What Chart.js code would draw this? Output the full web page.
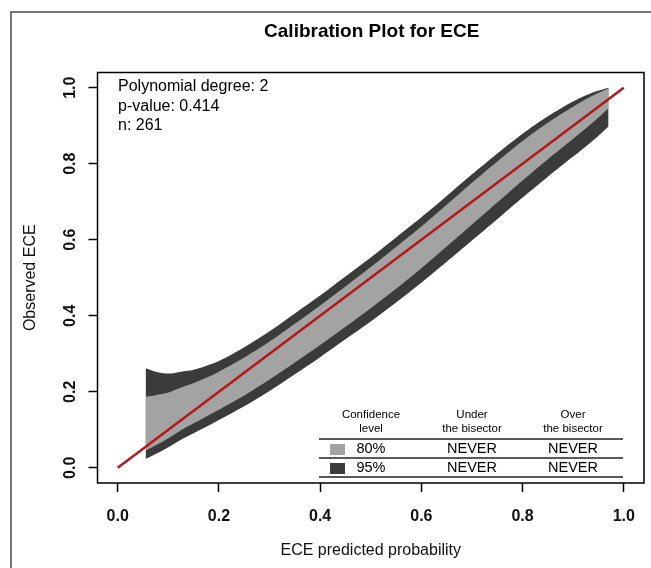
<!DOCTYPE html>
<html>
<head>
<meta charset="utf-8">
<script src="https://cdn.jsdelivr.net/npm/chart.js@4.4.0/dist/chart.umd.min.js"></script>
<style>
  html, body { margin: 0; padding: 0; background: #fff; }
  #wrap { width: 651px; height: 568px; }
</style>
</head>
<body>
<div id="wrap"><canvas id="calib" width="651" height="568"></canvas></div>
<script>
// values
const predicted = [0.055, 0.075, 0.1, 0.125, 0.15, 0.2, 0.25, 0.3, 0.35, 0.4, 0.45, 0.5, 0.55, 0.6, 0.65, 0.7, 0.75, 0.8, 0.85, 0.9, 0.94, 0.97];
const upper95 = [0.262, 0.253, 0.248, 0.253, 0.258, 0.281, 0.317, 0.359, 0.406, 0.453, 0.503, 0.553, 0.606, 0.659, 0.715, 0.772, 0.827, 0.879, 0.925, 0.964, 0.988, 1.0];
const upper80 = [0.187, 0.191, 0.198, 0.211, 0.223, 0.253, 0.29, 0.332, 0.379, 0.427, 0.477, 0.528, 0.581, 0.635, 0.692, 0.75, 0.806, 0.86, 0.908, 0.95, 0.98, 0.998];
const lower80 = [0.045, 0.059, 0.078, 0.099, 0.117, 0.153, 0.19, 0.232, 0.277, 0.323, 0.371, 0.42, 0.471, 0.525, 0.582, 0.64, 0.698, 0.756, 0.812, 0.866, 0.91, 0.946];
const lower95 = [0.023, 0.036, 0.054, 0.074, 0.091, 0.126, 0.162, 0.202, 0.246, 0.291, 0.338, 0.385, 0.435, 0.487, 0.542, 0.598, 0.654, 0.711, 0.766, 0.819, 0.862, 0.898];
const bisectorX = [0, 1];
const bisectorY = [0, 1];
const xTicks = [0, 0.2, 0.4, 0.6, 0.8, 1.0];
const yTicks = [0, 0.2, 0.4, 0.6, 0.8, 1.0];
const infoLines = ["Polynomial degree: 2", "p-value: 0.414", "n: 261"];
const tableHeader = [["Confidence", "level"], ["Under", "the bisector"], ["Over", "the bisector"]];
const levels = ["80%", "95%"];
const underBisector = ["NEVER", "NEVER"];
const overBisector = ["NEVER", "NEVER"];

const FONT = "'Liberation Sans', Arial, Helvetica, sans-serif";
const lightGrey = "#a3a3a3";
const darkGrey = "#3b3b3b";
const red = "#b3181d";

const pts = (xs, ys) => xs.map((x, i) => ({ x: x, y: ys[i] }));

const bandLine = {
    borderWidth: 0,
    borderColor: "rgba(0,0,0,0)",
    pointRadius: 0,
    tension: 0.3
};

// frame, box, title, info text and the little table
const decor = {
    id: "decor",
    afterDraw(chart) {
        const ctx = chart.ctx;
        const a = chart.chartArea;
        ctx.save();

        ctx.strokeStyle = "#4a4a4a";
        ctx.lineWidth = 1.5;
        ctx.beginPath();
        ctx.moveTo(11, 568);
        ctx.lineTo(11, 12);
        ctx.lineTo(651, 12);
        ctx.stroke();

        ctx.strokeStyle = "#000";
        ctx.lineWidth = 1.5;
        ctx.strokeRect(a.left, a.top, a.right - a.left, a.bottom - a.top);

        ctx.fillStyle = "#000";
        ctx.textAlign = "center";
        ctx.textBaseline = "middle";
        ctx.font = "bold 19px " + FONT;
        ctx.fillText("Calibration Plot for ECE", (a.left + a.right) / 2 + 1, 32);

        ctx.textAlign = "left";
        ctx.font = "16px " + FONT;
        infoLines.forEach((t, i) => ctx.fillText(t, 118, 87 + i * 19.5));

        // table
        const cols = [371, 472, 573];
        ctx.textAlign = "center";
        ctx.font = "11.5px " + FONT;
        tableHeader.forEach((h, i) => {
            ctx.fillText(h[0], cols[i], 415);
            ctx.fillText(h[1], cols[i], 429);
        });
        ctx.strokeStyle = "#222";
        ctx.lineWidth = 1.5;
        [439, 458, 477].forEach(y => {
            ctx.beginPath();
            ctx.moveTo(319, y);
            ctx.lineTo(623, y);
            ctx.stroke();
        });
        ctx.font = "14.5px " + FONT;
        [lightGrey, darkGrey].forEach((c, i) => {
            const y = 449 + i * 19;
            ctx.fillStyle = c;
            ctx.fillRect(330, y - 5, 15, 11);
            ctx.fillStyle = "#000";
            ctx.fillText(levels[i], cols[0], y);
            ctx.fillText(underBisector[i], cols[1], y);
            ctx.fillText(overBisector[i], cols[2], y);
        });
        ctx.restore();
    }
};

const tickFont = { family: FONT, size: 16, weight: "bold" };
const titleFont = { family: FONT, size: 16 };

new Chart(document.getElementById("calib"), {
    type: "line",
    data: {
        datasets: [
            {
                data: pts(bisectorX, bisectorY),
                borderColor: red,
                borderWidth: 2.5,
                pointRadius: 0,
                fill: false
            },
            Object.assign({ data: pts(predicted, upper80), fill: "+1", backgroundColor: lightGrey }, bandLine),
            Object.assign({ data: pts(predicted, lower80), fill: false }, bandLine),
            Object.assign({ data: pts(predicted, upper95), fill: "+1", backgroundColor: darkGrey }, bandLine),
            Object.assign({ data: pts(predicted, lower95), fill: false }, bandLine)
        ]
    },
    options: {
        responsive: false,
        animation: false,
        events: [],
        layout: { padding: { top: 72.5, right: 7, bottom: 0, left: 0 } },
        plugins: {
            legend: { display: false },
            tooltip: { enabled: false },
            title: { display: false }
        },
        scales: {
            x: {
                type: "linear",
                min: -0.04,
                max: 1.04,
                afterFit: s => { s.height = 85; },
                afterBuildTicks: s => { s.ticks = xTicks.map(v => ({ value: v })); },
                grid: { drawOnChartArea: false, tickLength: 9, tickColor: "#000", tickWidth: 1.5 },
                border: { display: false },
                ticks: { color: "#111", font: tickFont, padding: 15, maxRotation: 0, callback: v => v.toFixed(1) },
                title: { display: true, text: "ECE predicted probability", color: "#111", font: titleFont, padding: { top: 0, bottom: 8 } }
            },
            y: {
                type: "linear",
                min: -0.04,
                max: 1.04,
                afterFit: s => { s.width = 97.5; },
                afterBuildTicks: s => { s.ticks = yTicks.map(v => ({ value: v })); },
                grid: { drawOnChartArea: false, tickLength: 9, tickColor: "#000", tickWidth: 1.5 },
                border: { display: false },
                ticks: { color: "#111", font: tickFont, padding: 7, minRotation: 90, maxRotation: 90, crossAlign: "center", callback: v => v.toFixed(1) },
                title: { display: true, text: "Observed ECE", color: "#111", font: titleFont, padding: { top: 21, bottom: 0 } }
            }
        }
    },
    plugins: [decor]
});
</script>
</body>
</html>
